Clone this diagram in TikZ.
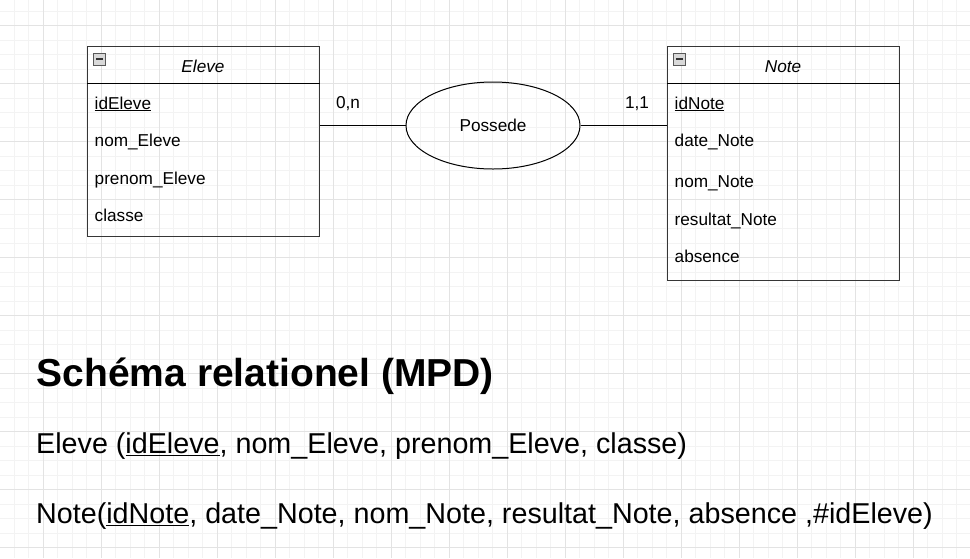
\documentclass[tikz,border=0pt]{standalone}
\usepackage{fontspec}
\setmainfont{Liberation Sans}
\usetikzlibrary{shapes.geometric,positioning}
\definecolor{grillefine}{HTML}{F3F3F3}
\definecolor{grille}{HTML}{E3E3E3}
\definecolor{bord}{HTML}{363636}
\newcommand{\cle}[1]{\underline{#1}}
\tikzset{attr/.style={anchor=base west,inner sep=0pt,font=\fontsize{17.2}{20}\selectfont},
	titre/.style={attr,anchor=base,font=\fontsize{17.2}{20}\selectfont\itshape},
	boite/.style={draw=bord,line width=1.3pt,minimum width=232pt,inner sep=0pt,anchor=north west},
	entete/.style={line width=1pt},
	moins/.style={draw=gray!70!black,fill=gray!30,minimum size=12pt,inner sep=0pt,
		path picture={\draw[line width=1.5pt,black!80]
			([xshift=-3.5pt]path picture bounding box.center) -- ([xshift=3.5pt]path picture bounding box.center);}},
	assoc/.style={ellipse,draw,line width=1pt,minimum width=174pt,minimum height=87pt,inner sep=0pt},
	lien/.style={line width=1pt},
	ligne/.style={anchor=base west,inner sep=0pt,font=\fontsize{28.7}{34}\selectfont}}
\begin{document}
\begin{tikzpicture}[x=1pt,y=-1pt]
\useasboundingbox (0,0) rectangle (970,558);
% grille
\foreach \i in {0,...,67} \draw[grillefine] ({-0.5+14.5*\i},0) -- ++(0,558);
\foreach \j in {0,...,37} \draw[grillefine] (0,{10.8+14.5*\j}) -- ++(970,0);
\foreach \i in {0,...,16} \draw[grille] ({43+58*\i},0) -- ++(0,558);
\foreach \j in {0,...,9} \draw[grille] (0,{25.3+58*\j}) -- ++(970,0);
% entite Eleve
\node[boite,minimum height=190pt] (eleve) at (87,46) {};
\draw[entete] ([yshift=-37pt]eleve.north west) -- ([yshift=-37pt]eleve.north east);
\node[moins] (eleveM) at (99.5,59) {};
\node[titre] (eleveT) at (203,72.3) {Eleve};
\node[attr] (idEleve) at (94.5,109) {\cle{idEleve}};
\node[attr] (nomEleve) at (94.5,146.7) {nom\_Eleve};
\node[attr] (prenomEleve) at (94.5,184.3) {prenom\_Eleve};
\node[attr] (classe) at (94.5,221.7) {classe};
% entite Note
\node[boite,minimum height=234pt] (note) at (667,46) {};
\draw[entete] ([yshift=-37pt]note.north west) -- ([yshift=-37pt]note.north east);
\node[moins] (noteM) at (679.5,59) {};
\node[titre] (noteT) at (783,72.3) {Note};
\node[attr] (idNote) at (674.5,109) {\cle{idNote}};
\node[attr] (dateNote) at (674.5,146.7) {date\_Note};
\node[attr] (nomNote) at (674.5,187.7) {nom\_Note};
\node[attr] (resultatNote) at (674.5,225) {resultat\_Note};
\node[attr] (absence) at (674.5,262.3) {absence};
% association
\node[assoc,font=\fontsize{17.2}{20}\selectfont] (possede) at (493,125.5) {Possede};
\draw[lien] (possede.west) -- (possede.west -| eleve.east);
\draw[lien] (possede.east) -- (possede.east -| note.west);
\node[attr,anchor=base] (cardE) at (348,108.3) {0,n};
\node[attr,anchor=base] (cardN) at (637,108.3) {1,1};
% schema relationnel
\node[anchor=base west,inner sep=0pt,font=\fontsize{39}{46}\selectfont\bfseries] (mpd) at (36.5,386) {Schéma relationel (MPD)};
\node[ligne] (relEleve) at (36,453.3) {Eleve (\cle{idEleve}, nom\_Eleve, prenom\_Eleve, classe)};
\node[ligne] (relNote) at (36,523.3) {Note(\cle{idNote}, date\_Note, nom\_Note, resultat\_Note, absence ,\#idEleve)};
\end{tikzpicture}
\end{document}
